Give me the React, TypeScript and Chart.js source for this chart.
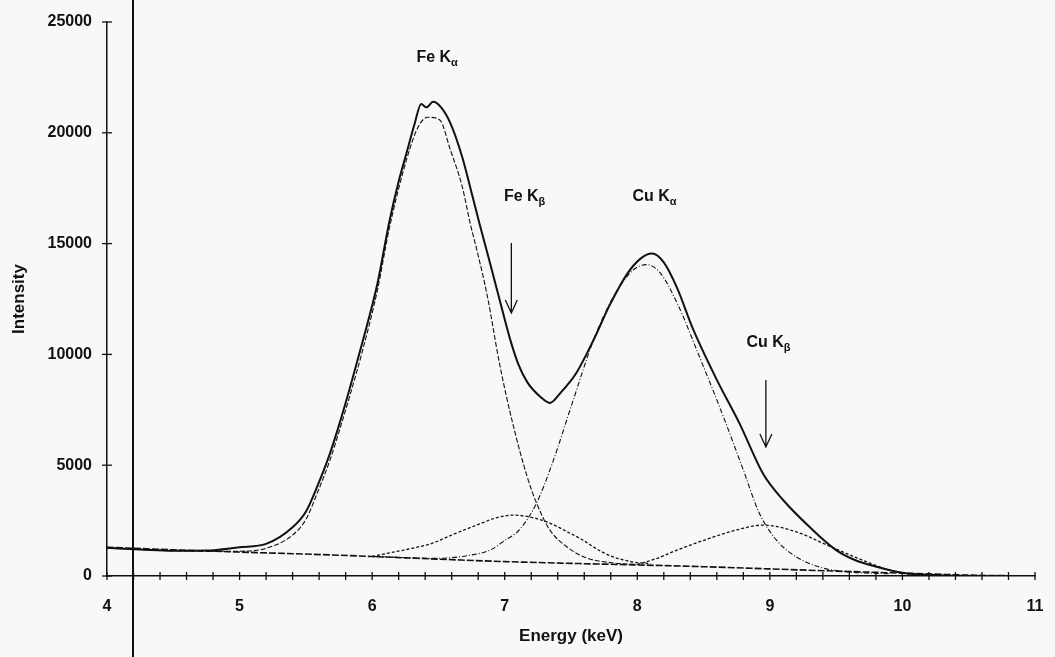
import React, { useEffect, useRef } from 'react';
import { Chart, registerables } from 'chart.js';

Chart.register(...registerables);

// ---- data (energy in keV, intensity in counts) ----
const totalEnergy = [4.0, 4.25, 4.5, 4.75, 5.0, 5.2, 5.4, 5.5, 5.59, 5.68, 5.76, 5.84, 5.92, 6.04, 6.13, 6.2, 6.26, 6.32, 6.37, 6.41, 6.46, 6.52, 6.59, 6.68, 6.75, 6.81, 6.89, 6.96, 7.04, 7.1, 7.17, 7.27, 7.34, 7.42, 7.54, 7.67, 7.79, 7.92, 8.02, 8.11, 8.2, 8.3, 8.42, 8.6, 8.77, 8.95, 9.1, 9.3, 9.5, 9.65, 9.81, 10.0, 10.23, 10.5, 11.0];
const totalCounts = [1270, 1200, 1140, 1150, 1300, 1450, 2200, 2900, 4100, 5500, 7000, 8650, 10400, 13200, 16000, 17800, 19100, 20400, 21300, 21150, 21400, 21150, 20440, 18900, 17300, 15900, 14100, 12500, 10700, 9600, 8750, 8080, 7810, 8260, 9160, 10650, 12200, 13600, 14300, 14550, 14150, 13000, 11150, 8850, 6900, 4600, 3430, 2210, 1170, 700, 410, 150, 40, 0, 0];

const feKaEnergy = [4.0, 4.5, 5.0, 5.2, 5.4, 5.5, 5.59, 5.68, 5.76, 5.84, 5.92, 6.04, 6.13, 6.26, 6.35, 6.42, 6.51, 6.59, 6.68, 6.74, 6.79, 6.87, 6.96, 7.06, 7.17, 7.24, 7.34, 7.47, 7.62, 7.82, 8.0];
const feKaCounts = [1270, 1140, 1120, 1250, 1850, 2550, 3800, 5200, 6700, 8300, 10000, 12900, 15700, 18800, 20300, 20700, 20580, 19230, 17560, 15900, 14710, 12600, 9610, 6900, 4470, 3290, 2080, 1310, 810, 590, 520];

const feKbEnergy = [6.0, 6.13, 6.3, 6.46, 6.6, 6.79, 6.95, 7.06, 7.2, 7.34, 7.47, 7.59, 7.7, 7.82, 7.97, 8.1];
const feKbCounts = [880, 1040, 1250, 1490, 1850, 2300, 2650, 2750, 2650, 2390, 2000, 1620, 1200, 860, 630, 560];

const cuKaEnergy = [6.0, 6.5, 6.75, 6.89, 7.0, 7.11, 7.24, 7.36, 7.51, 7.67, 7.82, 7.97, 8.07, 8.17, 8.3, 8.47, 8.65, 8.8, 8.92, 9.05, 9.2, 9.4, 9.6, 9.9];
const cuKaCounts = [880, 800, 950, 1170, 1600, 2080, 3290, 5100, 7810, 10650, 12600, 13810, 14050, 13700, 12320, 9880, 7180, 4780, 2840, 1620, 860, 360, 180, 100];

const cuKbEnergy = [8.0, 8.15, 8.3, 8.55, 8.75, 8.95, 9.2, 9.43, 9.66, 9.9, 10.05, 10.3];
const cuKbCounts = [520, 800, 1170, 1710, 2080, 2300, 1990, 1400, 810, 270, 90, 30];

const bgEnergy = [4.0, 4.5, 5.0, 5.5, 6.0, 6.5, 7.0, 7.5, 8.0, 8.5, 9.0, 9.5, 10.0, 10.5, 11.0];
const bgCounts = [1300, 1180, 1080, 990, 880, 760, 650, 570, 500, 420, 320, 220, 130, 40, 0];

// peak labels
const labelMain = ['Fe K', 'Fe K', 'Cu K', 'Cu K'];
const labelSub = ['α', 'β', 'α', 'β'];
const labelEnergy = [6.49, 7.15, 8.13, 8.99];
const labelCounts = [23380, 17100, 17100, 10520];

// arrows
const arrowEnergy = [7.05, 8.97];
const arrowFrom = [15030, 8845];
const arrowTo = [11870, 5820];

const xTickMin = 4;
const xTickMax = 11;
const yTickMax = 25000;

const pts = (xs: number[], ys: number[]) => xs.map((x, i) => ({ x, y: ys[i] }));

const FONT = '"Liberation Sans", Arial, sans-serif';

const crossTicks = {
  id: 'crossTicks',
  afterDraw(chart: any) {
    const { ctx, scales } = chart;
    const xs = scales.x;
    const ys = scales.y;
    ctx.save();
    ctx.strokeStyle = '#111';
    ctx.lineWidth = 1.3;
    ys.ticks.forEach((t: any) => {
      const py = ys.getPixelForValue(t.value);
      ctx.beginPath();
      ctx.moveTo(xs.left - 5, py);
      ctx.lineTo(xs.left + 5, py);
      ctx.stroke();
    });
    xs.ticks.forEach((t: any) => {
      const px = xs.getPixelForValue(t.value);
      ctx.beginPath();
      ctx.moveTo(px, ys.bottom - 4);
      ctx.lineTo(px, ys.bottom + 4);
      ctx.stroke();
    });
    ctx.restore();
  },
};

const annotations = {
  id: 'annotations',
  afterDatasetsDraw(chart: any) {
    const { ctx, scales } = chart;
    const xs = scales.x;
    const ys = scales.y;
    ctx.save();
    ctx.fillStyle = '#111';
    ctx.textBaseline = 'middle';
    labelMain.forEach((m, i) => {
      const mainFont = `bold 16px ${FONT}`;
      const subFont = `bold 11px ${FONT}`;
      ctx.font = mainFont;
      const wm = ctx.measureText(m).width;
      ctx.font = subFont;
      const ws = ctx.measureText(labelSub[i]).width;
      const cx = xs.getPixelForValue(labelEnergy[i]);
      const cy = ys.getPixelForValue(labelCounts[i]);
      const x0 = cx - (wm + ws) / 2;
      ctx.textAlign = 'left';
      ctx.font = mainFont;
      ctx.fillText(m, x0, cy);
      ctx.font = subFont;
      ctx.fillText(labelSub[i], x0 + wm, cy + 5);
    });
    ctx.strokeStyle = '#111';
    ctx.lineWidth = 1.3;
    arrowEnergy.forEach((e, i) => {
      const px = xs.getPixelForValue(e);
      const y1 = ys.getPixelForValue(arrowFrom[i]);
      const y2 = ys.getPixelForValue(arrowTo[i]);
      ctx.beginPath();
      ctx.moveTo(px, y1);
      ctx.lineTo(px, y2);
      ctx.moveTo(px - 6, y2 - 13);
      ctx.lineTo(px, y2);
      ctx.lineTo(px + 6, y2 - 13);
      ctx.stroke();
    });
    ctx.restore();
  },
};

export default function App() {
  const ref = useRef<HTMLCanvasElement | null>(null);

  useEffect(() => {
    if (!ref.current) return;
    const common = { pointRadius: 0, fill: false, cubicInterpolationMode: 'monotone' as const, borderColor: '#111' };
    const chart = new Chart(ref.current, {
      type: 'line',
      data: {
        datasets: [
          { ...common, label: 'Background', data: pts(bgEnergy, bgCounts), borderWidth: 1.6, borderDash: [7, 2] },
          { ...common, label: 'Fe Kβ', data: pts(feKbEnergy, feKbCounts), borderWidth: 1.3, borderDash: [3, 2] },
          { ...common, label: 'Cu Kβ', data: pts(cuKbEnergy, cuKbCounts), borderWidth: 1.3, borderDash: [3, 2] },
          { ...common, label: 'Cu Kα', data: pts(cuKaEnergy, cuKaCounts), borderWidth: 1.1, borderDash: [5, 2, 1, 2] },
          { ...common, label: 'Fe Kα', data: pts(feKaEnergy, feKaCounts), borderWidth: 1.1, borderDash: [5, 2] },
          { ...common, label: 'Total', data: pts(totalEnergy, totalCounts), borderWidth: 2 },
        ],
      },
      options: {
        animation: false,
        responsive: false,
        layout: { padding: { left: 0, top: 22, right: 20, bottom: 0 } },
        plugins: { legend: { display: false }, tooltip: { enabled: false } },
        scales: {
          x: {
            type: 'linear',
            min: xTickMin,
            max: xTickMax,
            afterFit: (s: any) => { s.height = 81; s.paddingRight = 0; s.paddingLeft = 0; },
            border: { display: true, color: '#111', width: 1.5 },
            grid: { drawOnChartArea: false, drawTicks: true, tickLength: 5, color: 'rgba(0,0,0,0)' },
            ticks: {
              stepSize: 0.2,
              autoSkip: false,
              maxRotation: 0,
              padding: 16,
              color: '#111',
              font: { family: FONT, size: 16, weight: 'bold' },
              callback: (v: any) => (Math.abs(v - Math.round(v)) < 1e-6 ? String(Math.round(v)) : ''),
            },
            title: { display: true, text: 'Energy (keV)', color: '#111', font: { family: FONT, size: 17, weight: 'bold' }, padding: { top: 0, bottom: 10 } },
          },
          y: {
            min: 0,
            max: yTickMax,
            afterFit: (s: any) => { s.width = 107; },
            border: { display: true, color: '#111', width: 1.5 },
            grid: { drawOnChartArea: false, drawTicks: true, tickLength: 5, color: 'rgba(0,0,0,0)' },
            ticks: {
              stepSize: 5000,
              padding: 10,
              color: '#111',
              font: { family: FONT, size: 16, weight: 'bold' },
              callback: (v: any) => String(v),
            },
            title: { display: true, text: 'Intensity', color: '#111', font: { family: FONT, size: 17, weight: 'bold' }, padding: { top: 9, bottom: 0 } },
          },
        },
      },
      plugins: [crossTicks, annotations],
    } as any);
    return () => chart.destroy();
  }, []);

  return (
    <div style={{ position: 'fixed', left: 0, top: 0, width: 1055, height: 657, background: '#f8f8f8' }}>
      <canvas ref={ref} width={1055} height={657} style={{ display: 'block' }} />
      <div style={{ position: 'absolute', left: 132, top: 0, width: 2, height: 657, background: '#111' }} />
    </div>
  );
}
